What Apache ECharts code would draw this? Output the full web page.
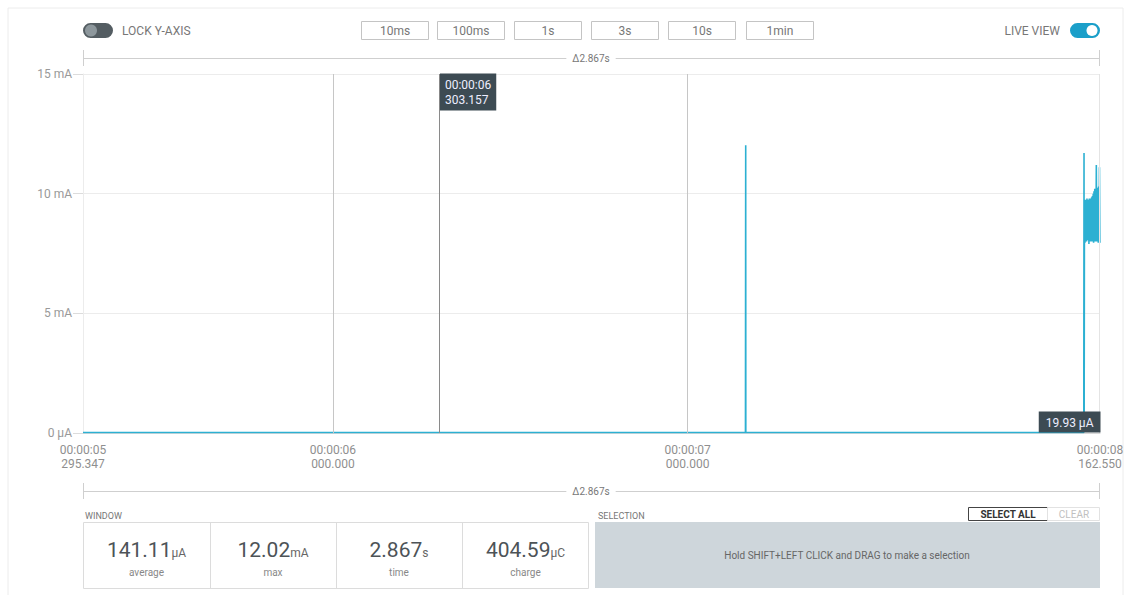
<!DOCTYPE html>
<html><head><meta charset="utf-8">
<script src="https://cdn.jsdelivr.net/npm/echarts@6/dist/echarts.min.js"></script>
<style>html,body{margin:0;padding:0;background:#fff}#c{width:1131px;height:595px}</style>
</head><body><div id="c"></div>
<script>
// ---- data (time in seconds, current in mA) ----
const sampleTimes = [
  5.295347, 5.6000, 6.0000, 6.3000, 6.8000, 7.1630, 7.1634, 7.1637, 7.1640, 7.1644, 7.6000, 8.0000, 8.1168, 8.1172, 8.1175, 8.1179, 8.1186,
  8.1192, 8.1203, 8.1214, 8.1225, 8.1236, 8.1247, 8.1258, 8.1269, 8.1280, 8.1291,
  8.1302, 8.1313, 8.1324, 8.1335, 8.1346, 8.1357, 8.1368, 8.1379, 8.1390, 8.1401,
  8.1412, 8.1423, 8.1434, 8.1445, 8.1456, 8.1467, 8.1478, 8.1489, 8.1500, 8.1511,
  8.1522, 8.1533, 8.1544, 8.1555, 8.1566, 8.1577, 8.1588, 8.1599, 8.1610, 8.1621, 8.16255
];
const sampleCurrents = [
  0.020, 0.021, 0.019, 0.020, 0.021, 0.020, 0.021, 12.02, 0.022, 0.020, 0.019, 0.020, 0.021, 0.020, 11.70, 0.40, 8.00,
  9.70, 7.95, 9.75, 8.10, 9.70, 8.00, 9.80, 8.05, 9.75, 8.20,
  9.70, 7.90, 9.80, 8.00, 9.75, 8.10, 9.80, 8.00, 9.85, 8.20,
  9.90, 8.00, 10.00, 7.95, 10.10, 8.10, 10.20, 8.00, 10.15, 8.25,
  11.20, 8.00, 10.25, 8.10, 10.20, 7.95, 10.30, 8.00, 11.10, 7.95, 8.00
];
const xTickValues = [5.295347, 6, 7, 8.16255];
const xTickLabels = ['00:00:05\n295.347', '00:00:06\n000.000', '00:00:07\n000.000', '00:00:08\n162.550'];
const yTickValues = [0, 5, 10, 15];
const yTickLabels = ['0 µA', '5 mA', '10 mA', '15 mA'];
const gridTimes = [6, 7];
const cursorTime = 6.303157;
const cursorLabel = '00:00:06\n303.157';
const lastValueLabel = '19.93 µA';
const zoomButtons = ['10ms', '100ms', '1s', '3s', '10s', '1min'];
const windowDelta = 'Δ2.867s';
const statValues = ['141.11', '12.02', '2.867', '404.59'];
const statUnits = ['µA', 'mA', 's', 'µC'];
const statNames = ['average', 'max', 'time', 'charge'];

const FONT = 'Roboto, "Noto Sans", sans-serif';
const chart = echarts.init(document.getElementById('c'), null, {renderer: 'svg'});

const g = [];
// card border
g.push({type:'rect', shape:{x:8, y:8, width:1115, height:600}, style:{fill:'none', stroke:'#ececec', lineWidth:1}, silent:true});
// lock y-axis toggle
g.push({type:'rect', shape:{x:83, y:23, width:30, height:15, r:7.5}, style:{fill:'#545d62'}});
g.push({type:'circle', shape:{cx:91, cy:30.5, r:6}, style:{fill:'#8d979c'}});
g.push({type:'text', style:{text:'LOCK Y-AXIS', x:122, y:31, fill:'#777', font:'12px '+FONT, textVerticalAlign:'middle'}});
// zoom buttons
const btnX = [361, 437, 514, 591, 668, 746];
zoomButtons.forEach((t, i) => {
  g.push({type:'rect', shape:{x:btnX[i]+0.5, y:21.5, width:67, height:18}, style:{fill:'#fff', stroke:'#c4c4c4', lineWidth:1}});
  g.push({type:'text', style:{text:t, x:btnX[i]+34, y:31, fill:'#777', font:'12px '+FONT, textAlign:'center', textVerticalAlign:'middle'}});
});
// live view toggle
g.push({type:'text', style:{text:'LIVE VIEW', x:1060, y:31, fill:'#777', font:'12px '+FONT, textAlign:'right', textVerticalAlign:'middle'}});
g.push({type:'rect', shape:{x:1070, y:23, width:30, height:15, r:7.5}, style:{fill:'#1b9fc9'}});
g.push({type:'circle', shape:{cx:1092, cy:30.5, r:5.5}, style:{fill:'#fff'}});
// delta rulers
[58, 491].forEach(y => {
  g.push({type:'line', shape:{x1:83, y1:y+0.5, x2:1100, y2:y+0.5}, style:{stroke:'#cfcfcf', lineWidth:1}});
  g.push({type:'line', shape:{x1:83.5, y1:y-8, x2:83.5, y2:y+8}, style:{stroke:'#cfcfcf', lineWidth:1}});
  g.push({type:'line', shape:{x1:1099.5, y1:y-8, x2:1099.5, y2:y+8}, style:{stroke:'#cfcfcf', lineWidth:1}});
  g.push({type:'text', style:{text:windowDelta, x:591, y:y+0.5, fill:'#777', font:'10px '+FONT, textAlign:'center', textVerticalAlign:'middle', backgroundColor:'#fff', padding:[0,6]}});
});
// window stats
g.push({type:'text', style:{text:'WINDOW', x:85, y:516, fill:'#777', font:'9px '+FONT, textVerticalAlign:'middle'}});
const boxX = [83, 210, 336, 462, 589];
g.push({type:'rect', shape:{x:83.5, y:522.5, width:505, height:66}, style:{fill:'#fff', stroke:'#dcdcdc', lineWidth:1}});
for (let i = 1; i < 4; i++) g.push({type:'line', shape:{x1:boxX[i]+0.5, y1:522.5, x2:boxX[i]+0.5, y2:588.5}, style:{stroke:'#dcdcdc', lineWidth:1}});
statValues.forEach((v, i) => {
  const cx = (boxX[i] + boxX[i+1]) / 2;
  g.push({type:'text', style:{text:'{v|'+v+'}{u|'+statUnits[i]+'}', x:cx, y:550, textAlign:'center', textVerticalAlign:'middle',
    rich:{v:{fontSize:21, fontFamily:FONT, fill:'#4d5357', color:'#4d5357'}, u:{fontSize:12, fontFamily:FONT, fill:'#666', color:'#666', padding:[5,0,0,0]}}}});
  g.push({type:'text', style:{text:statNames[i], x:cx, y:572, fill:'#888', font:'10px '+FONT, textAlign:'center', textVerticalAlign:'middle'}});
});
// selection
g.push({type:'text', style:{text:'SELECTION', x:598, y:516, fill:'#777', font:'9px '+FONT, textVerticalAlign:'middle'}});
g.push({type:'rect', shape:{x:968.5, y:507.5, width:79, height:13}, style:{fill:'#fff', stroke:'#444', lineWidth:1}});
g.push({type:'text', style:{text:'SELECT ALL', x:1008, y:514.5, fill:'#333', font:'bold 10px '+FONT, textAlign:'center', textVerticalAlign:'middle'}});
g.push({type:'rect', shape:{x:1047.5, y:507.5, width:52, height:13}, style:{fill:'#fff', stroke:'#e2e2e2', lineWidth:1}});
g.push({type:'text', style:{text:'CLEAR', x:1074, y:514.5, fill:'#c0c0c0', font:'10px '+FONT, textAlign:'center', textVerticalAlign:'middle'}});
g.push({type:'rect', shape:{x:595, y:522, width:505, height:66}, style:{fill:'#ced6db'}});
g.push({type:'text', style:{text:'Hold SHIFT+LEFT CLICK and DRAG to make a selection', x:847, y:555, fill:'#666', font:'10px '+FONT, textAlign:'center', textVerticalAlign:'middle'}});

const option = {
  animation: false,
  backgroundColor: '#fff',
  textStyle: {fontFamily: FONT},
  grid: {left: 83, right: 31, top: 74, bottom: 162, containLabel: false},
  xAxis: {
    type: 'value', min: xTickValues[0], max: xTickValues[xTickValues.length-1],
    axisLine: {show: true, lineStyle: {color: '#d8d8d8'}},
    axisTick: {show: false},
    splitLine: {show: false},
    axisLabel: {
      customValues: xTickValues, showMinLabel: true, showMaxLabel: true,
      color: '#8f8f8f', fontSize: 12, lineHeight: 14, margin: 10, fontFamily: FONT,
      formatter: v => { const i = xTickValues.findIndex(t => Math.abs(t - v) < 1e-6); return i >= 0 ? xTickLabels[i] : ''; }
    }
  },
  yAxis: {
    type: 'value', min: 0, max: 15, interval: 5,
    axisLine: {show: true, lineStyle: {color: '#ececec'}},
    axisTick: {show: true, length: 10, lineStyle: {color: '#dcdcdc'}},
    splitLine: {show: true, lineStyle: {color: '#ececec'}},
    axisLabel: {color: '#999', fontSize: 12, margin: 11, fontFamily: FONT,
      formatter: v => { const i = yTickValues.indexOf(v); return i >= 0 ? yTickLabels[i] : ''; }}
  },
  graphic: g,
  series: [{
    type: 'line',
    data: sampleTimes.map((t, i) => [t, sampleCurrents[i]]),
    showSymbol: false, symbol: 'none', sampling: false,
    lineStyle: {color: '#2cb0d2', width: 1.6},
    z: 3,
    markLine: {
      silent: true, symbol: 'none', animation: false,
      label: {show: false},
      data: [
        ...gridTimes.map(t => ({xAxis: t, lineStyle: {color: '#c6c6c6', width: 1, type: 'solid'}})),
        {xAxis: xTickValues[xTickValues.length-1], lineStyle: {color: '#e4e4e4', width: 1, type: 'solid'}},
        {xAxis: cursorTime, lineStyle: {color: '#8a8a8a', width: 1, type: 'solid'}}
      ]
    },
    markPoint: {
      silent: true, symbol: 'rect', symbolSize: 1, itemStyle: {color: 'rgba(0,0,0,0)'},
      data: [
        {coord: [cursorTime, 15], label: {show: true, formatter: cursorLabel, position: [0, 0], align: 'left', verticalAlign: 'top',
          backgroundColor: '#3d4b53', color: '#eef', fontSize: 12, lineHeight: 15, padding: [4, 5, 3, 5], fontFamily: FONT}},
        {coord: [xTickValues[xTickValues.length-1], 0], label: {show: true, formatter: lastValueLabel, position: [1, 0], align: 'right', verticalAlign: 'bottom',
          backgroundColor: '#3d4b53', color: '#eef', fontSize: 12, lineHeight: 14, padding: [4, 7, 3, 7], fontFamily: FONT}}
      ]
    }
  }]
};
chart.setOption(option);
</script></body></html>
